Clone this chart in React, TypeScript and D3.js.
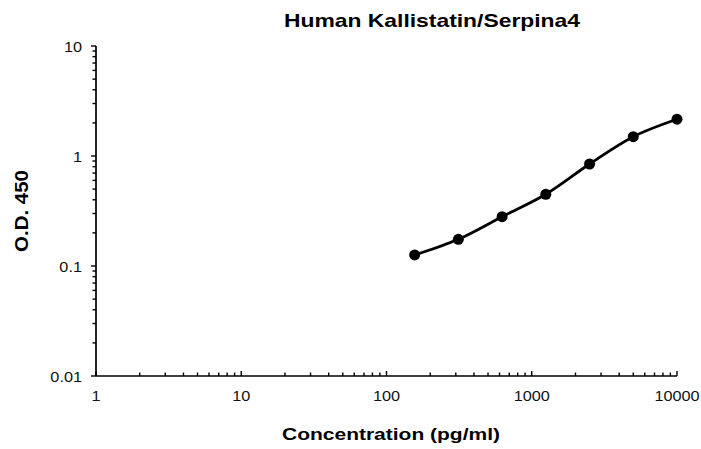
import React, { useEffect, useRef } from "react";
import * as d3 from "d3";

// standard curve, pg/ml vs O.D. 450
const concentrations = [156.25, 312.5, 625, 1250, 2500, 5000, 10000];
const odValues = [0.126, 0.175, 0.281, 0.449, 0.846, 1.5, 2.16];
const xTickValues = [1, 10, 100, 1000, 10000];
const xTickLabels = ["1", "10", "100", "1000", "10000"];
const yTickValues = [0.01, 0.1, 1, 10];
const yTickLabels = ["0.01", "0.1", "1", "10"];

const FONT = "'Liberation Sans', Arial, Helvetica, sans-serif";

const App = () => {
  const chartRef = useRef<SVGSVGElement>(null);

  useEffect(() => {
    const svg = d3.select(chartRef.current);
    svg.selectAll("*").remove();

    const xScale = d3.scaleLog().domain([1, 10000]).range([96, 677]);
    const yScale = d3.scaleLog().domain([0.01, 10]).range([376, 46]);

    const minorX = d3.range(0, 4).flatMap((e) => d3.range(2, 10).map((m) => m * Math.pow(10, e)));
    const minorY = d3.range(-2, 1).flatMap((e) => d3.range(2, 10).map((m) => +(m * Math.pow(10, e)).toPrecision(3)));

    const axisColor = "#000";

    // x axis: ticks point up, into the plot
    const gx = svg.append("g");
    gx.append("line")
      .attr("x1", xScale(1)).attr("x2", xScale(10000))
      .attr("y1", 376).attr("y2", 376)
      .attr("stroke", axisColor).attr("stroke-width", 1.7);
    gx.selectAll(".minor")
      .data(minorX)
      .join("line")
      .attr("x1", (d) => xScale(d)).attr("x2", (d) => xScale(d))
      .attr("y1", 376).attr("y2", 372.5)
      .attr("stroke", axisColor).attr("stroke-width", 1.4);
    gx.selectAll(".major")
      .data(xTickValues)
      .join("line")
      .attr("x1", (d) => xScale(d)).attr("x2", (d) => xScale(d))
      .attr("y1", 376).attr("y2", 371)
      .attr("stroke", axisColor).attr("stroke-width", 1.4);
    gx.selectAll("text")
      .data(xTickValues)
      .join("text")
      .attr("transform", (d) => `translate(${xScale(d)},401) scale(1.1,1)`)
      .attr("text-anchor", "middle")
      .attr("font-family", FONT)
      .attr("font-size", 14.8)
      .attr("fill", "#111")
      .text((d, i) => xTickLabels[i]);

    // y axis: ticks point left, outside
    const gy = svg.append("g");
    gy.append("line")
      .attr("x1", 96).attr("x2", 96)
      .attr("y1", yScale(10)).attr("y2", yScale(0.01))
      .attr("stroke", axisColor).attr("stroke-width", 1.7);
    gy.selectAll(".minor")
      .data(minorY)
      .join("line")
      .attr("x1", 96).attr("x2", 92.5)
      .attr("y1", (d) => yScale(d)).attr("y2", (d) => yScale(d))
      .attr("stroke", axisColor).attr("stroke-width", 1.4);
    gy.selectAll(".major")
      .data(yTickValues)
      .join("line")
      .attr("x1", 96).attr("x2", 91)
      .attr("y1", (d) => yScale(d)).attr("y2", (d) => yScale(d))
      .attr("stroke", axisColor).attr("stroke-width", 1.4);
    gy.selectAll("text")
      .data(yTickValues)
      .join("text")
      .attr("transform", (d) => `translate(82,${yScale(d) + 5.5}) scale(1.1,1)`)
      .attr("text-anchor", "end")
      .attr("font-family", FONT)
      .attr("font-size", 14.8)
      .attr("fill", "#111")
      .text((d, i) => yTickLabels[i]);

    const points = concentrations.map((c, i) => [c, odValues[i]] as [number, number]);

    const line = d3
      .line<[number, number]>()
      .x((d) => xScale(d[0]))
      .y((d) => yScale(d[1]))
      .curve(d3.curveCatmullRom.alpha(0.5));

    svg.append("path")
      .datum(points)
      .attr("fill", "none")
      .attr("stroke", "#000")
      .attr("stroke-width", 2.8)
      .attr("d", line);

    svg.append("g")
      .selectAll("circle")
      .data(points)
      .join("circle")
      .attr("cx", (d) => xScale(d[0]))
      .attr("cy", (d) => yScale(d[1]))
      .attr("r", 5.5)
      .attr("fill", "#000");

    // titles
    svg.append("text")
      .attr("x", 432).attr("y", 26.5)
      .attr("text-anchor", "middle")
      .attr("font-family", FONT)
      .attr("font-weight", "bold")
      .attr("font-size", 19)
      .attr("textLength", 296)
      .attr("lengthAdjust", "spacingAndGlyphs")
      .attr("fill", "#000")
      .text("Human Kallistatin/Serpina4");

    svg.append("text")
      .attr("x", 391).attr("y", 440)
      .attr("text-anchor", "middle")
      .attr("font-family", FONT)
      .attr("font-weight", "bold")
      .attr("font-size", 17)
      .attr("textLength", 218)
      .attr("lengthAdjust", "spacingAndGlyphs")
      .attr("fill", "#000")
      .text("Concentration (pg/ml)");

    svg.append("text")
      .attr("transform", "translate(28,211) rotate(-90)")
      .attr("text-anchor", "middle")
      .attr("font-family", FONT)
      .attr("font-weight", "bold")
      .attr("font-size", 17.5)
      .attr("textLength", 82)
      .attr("lengthAdjust", "spacingAndGlyphs")
      .attr("fill", "#000")
      .text("O.D. 450");
  }, []);

  return (
    <div style={{ position: "absolute", left: 0, top: 0, width: 701, height: 449, background: "#fff" }}>
      <svg ref={chartRef} width={701} height={449} style={{ display: "block" }}></svg>
    </div>
  );
};

export default App;
